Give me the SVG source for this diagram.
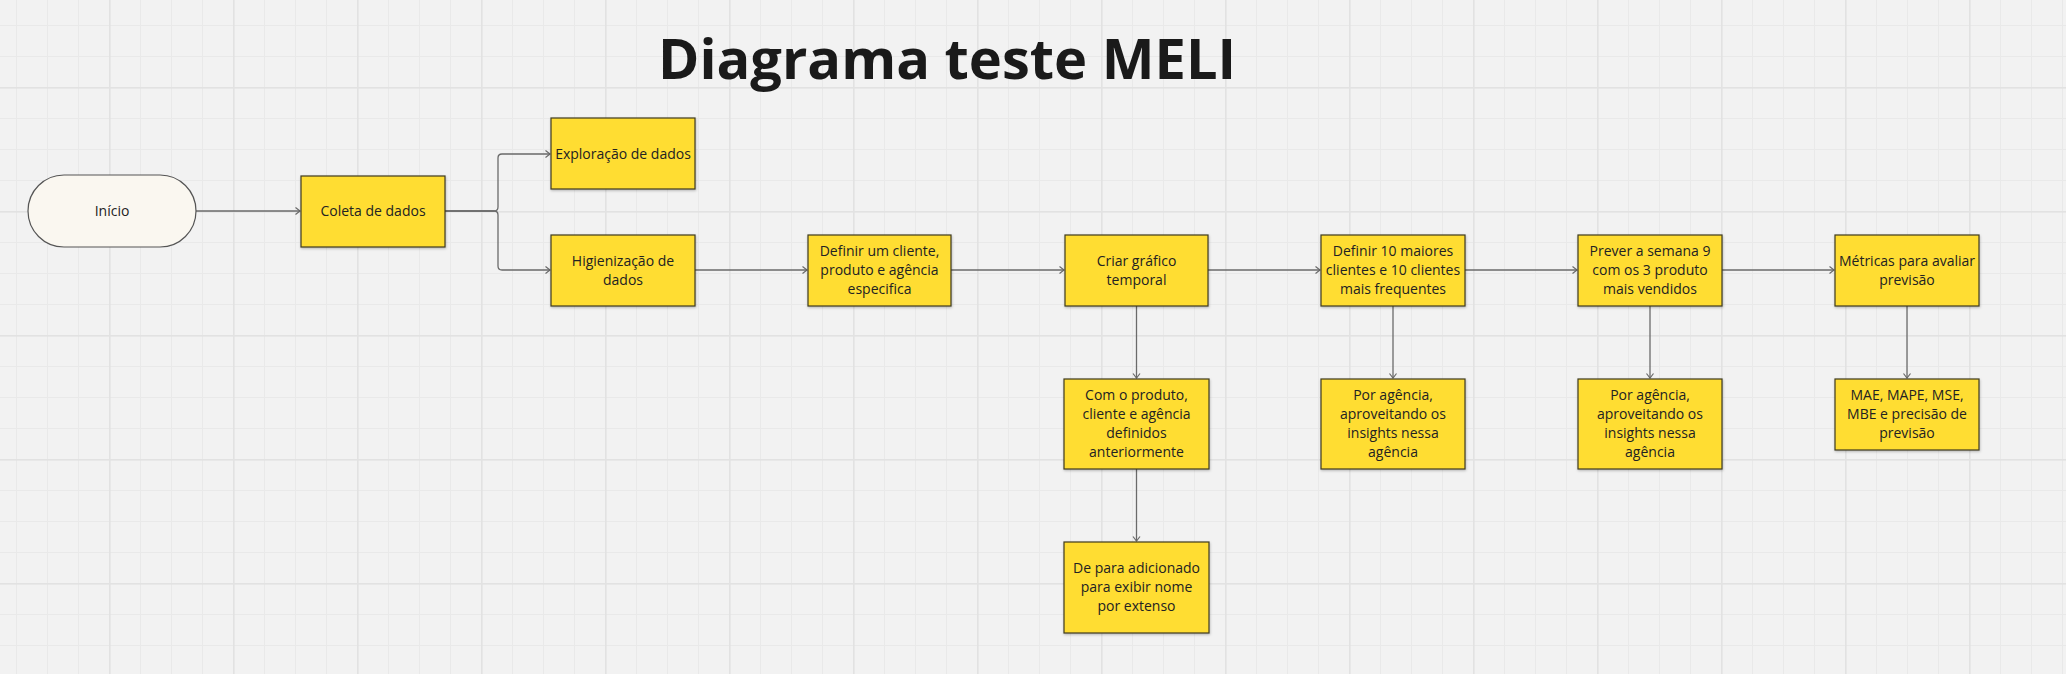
<svg xmlns="http://www.w3.org/2000/svg" width="2066" height="674" viewBox="0 0 2066 674">
<style>
.box{fill:#FFDD33;stroke:#3f3a22;stroke-width:1.2;filter:url(#sh)}
.pill{fill:#FAF7F0;stroke:#555;stroke-width:1.2}
.t{font-family:"Open Sans","Noto Sans","Liberation Sans",sans-serif;font-size:14px;fill:#222;text-anchor:middle}
.title{font-family:"Open Sans","Noto Sans","Liberation Sans",sans-serif;font-size:56px;font-weight:700;fill:#1a1a1a;text-anchor:middle}
.c{fill:none;stroke:#6a6a6a;stroke-width:1.3;marker-end:url(#ar)}
</style>
<defs>
<pattern id="grid" x="109" y="87" width="124" height="124" patternUnits="userSpaceOnUse">
<rect x="31" y="0" width="1" height="124" fill="#E9E9E9"/>
<rect x="62" y="0" width="1" height="124" fill="#E9E9E9"/>
<rect x="93" y="0" width="1" height="124" fill="#E9E9E9"/>
<rect x="0" y="31" width="124" height="1" fill="#E9E9E9"/>
<rect x="0" y="62" width="124" height="1" fill="#E9E9E9"/>
<rect x="0" y="93" width="124" height="1" fill="#E9E9E9"/>
<rect x="0" y="0" width="1.6" height="124" fill="#E2E2E2"/>
<rect x="0" y="0" width="124" height="1.6" fill="#E2E2E2"/>
</pattern>
<marker id="ar" markerUnits="userSpaceOnUse" markerWidth="10" markerHeight="10" refX="6" refY="4" orient="auto">
<path d="M1.5,0.5 L6,4 L1.5,7.5" fill="none" stroke="#6a6a6a" stroke-width="1.2"/>
</marker>
<filter id="sh" x="-5%" y="-5%" width="110%" height="115%">
<feDropShadow dx="0.5" dy="1.2" stdDeviation="0.8" flood-color="#000" flood-opacity="0.25"/>
</filter>
</defs>
<rect width="2066" height="674" fill="#F2F2F2"/>
<rect width="2066" height="674" fill="url(#grid)"/>

<text class="title" x="947" y="79">Diagrama teste MELI</text>

<g id="connectors">
<path class="c" d="M196,211 H300"/>
<path class="c" d="M445,211 H494 Q498,211 498,207 V158 Q498,154 502,154 H550"/>
<path class="c" d="M445,211 H494 Q498,211 498,215 V266 Q498,270 502,270 H550"/>
<path class="c" d="M695,270 H807"/>
<path class="c" d="M951,270 H1064"/>
<path class="c" d="M1208,270 H1320"/>
<path class="c" d="M1465,270 H1577"/>
<path class="c" d="M1722,270 H1834"/>
<path class="c" d="M1136.5,306 V378"/>
<path class="c" d="M1136.5,469 V541"/>
<path class="c" d="M1393,306 V378"/>
<path class="c" d="M1650,306 V378"/>
<path class="c" d="M1907,306 V378"/>
</g>

<g id="inicio">
<rect class="pill" x="28" y="175" width="168" height="72" rx="36"/>
<text class="t" x="112" y="216">Início</text>
</g>
<g id="coleta">
<rect class="box" x="301" y="176" width="144" height="71"/>
<text class="t" x="373" y="216">Coleta de dados</text>
</g>
<g id="exploracao">
<rect class="box" x="551" y="118" width="144" height="71"/>
<text class="t" x="623" y="159">Exploração de dados</text>
</g>
<g id="higienizacao">
<rect class="box" x="551" y="235" width="144" height="71"/>
<text class="t" x="623" y="266">Higienização de</text>
<text class="t" x="623" y="285">dados</text>
</g>
<g id="definir-cliente">
<rect class="box" x="808" y="235" width="143" height="71"/>
<text class="t" x="879.5" y="256">Definir um cliente,</text>
<text class="t" x="879.5" y="275">produto e agência</text>
<text class="t" x="879.5" y="294">especifica</text>
</g>
<g id="criar-grafico">
<rect class="box" x="1065" y="235" width="143" height="71"/>
<text class="t" x="1136.5" y="266">Criar gráfico</text>
<text class="t" x="1136.5" y="285">temporal</text>
</g>
<g id="definir-10">
<rect class="box" x="1321" y="235" width="144" height="71"/>
<text class="t" x="1393" y="256">Definir 10 maiores</text>
<text class="t" x="1393" y="275">clientes e 10 clientes</text>
<text class="t" x="1393" y="294">mais frequentes</text>
</g>
<g id="prever">
<rect class="box" x="1578" y="235" width="144" height="71"/>
<text class="t" x="1650" y="256">Prever a semana 9</text>
<text class="t" x="1650" y="275">com os 3 produto</text>
<text class="t" x="1650" y="294">mais vendidos</text>
</g>
<g id="metricas">
<rect class="box" x="1835" y="235" width="144" height="71"/>
<text class="t" x="1907" y="266">Métricas para avaliar</text>
<text class="t" x="1907" y="285">previsão</text>
</g>
<g id="com-produto">
<rect class="box" x="1064" y="379" width="145" height="90"/>
<text class="t" x="1136.5" y="400">Com o produto,</text>
<text class="t" x="1136.5" y="419">cliente e agência</text>
<text class="t" x="1136.5" y="438">definidos</text>
<text class="t" x="1136.5" y="457">anteriormente</text>
</g>
<g id="de-para">
<rect class="box" x="1064" y="542" width="145" height="91"/>
<text class="t" x="1136.5" y="573">De para adicionado</text>
<text class="t" x="1136.5" y="592">para exibir nome</text>
<text class="t" x="1136.5" y="611">por extenso</text>
</g>
<g id="por-agencia-1">
<rect class="box" x="1321" y="379" width="144" height="90"/>
<text class="t" x="1393" y="400">Por agência,</text>
<text class="t" x="1393" y="419">aproveitando os</text>
<text class="t" x="1393" y="438">insights nessa</text>
<text class="t" x="1393" y="457">agência</text>
</g>
<g id="por-agencia-2">
<rect class="box" x="1578" y="379" width="144" height="90"/>
<text class="t" x="1650" y="400">Por agência,</text>
<text class="t" x="1650" y="419">aproveitando os</text>
<text class="t" x="1650" y="438">insights nessa</text>
<text class="t" x="1650" y="457">agência</text>
</g>
<g id="mae">
<rect class="box" x="1835" y="379" width="144" height="71"/>
<text class="t" x="1907" y="400">MAE, MAPE, MSE,</text>
<text class="t" x="1907" y="419">MBE e precisão de</text>
<text class="t" x="1907" y="438">previsão</text>
</g>
</svg>
